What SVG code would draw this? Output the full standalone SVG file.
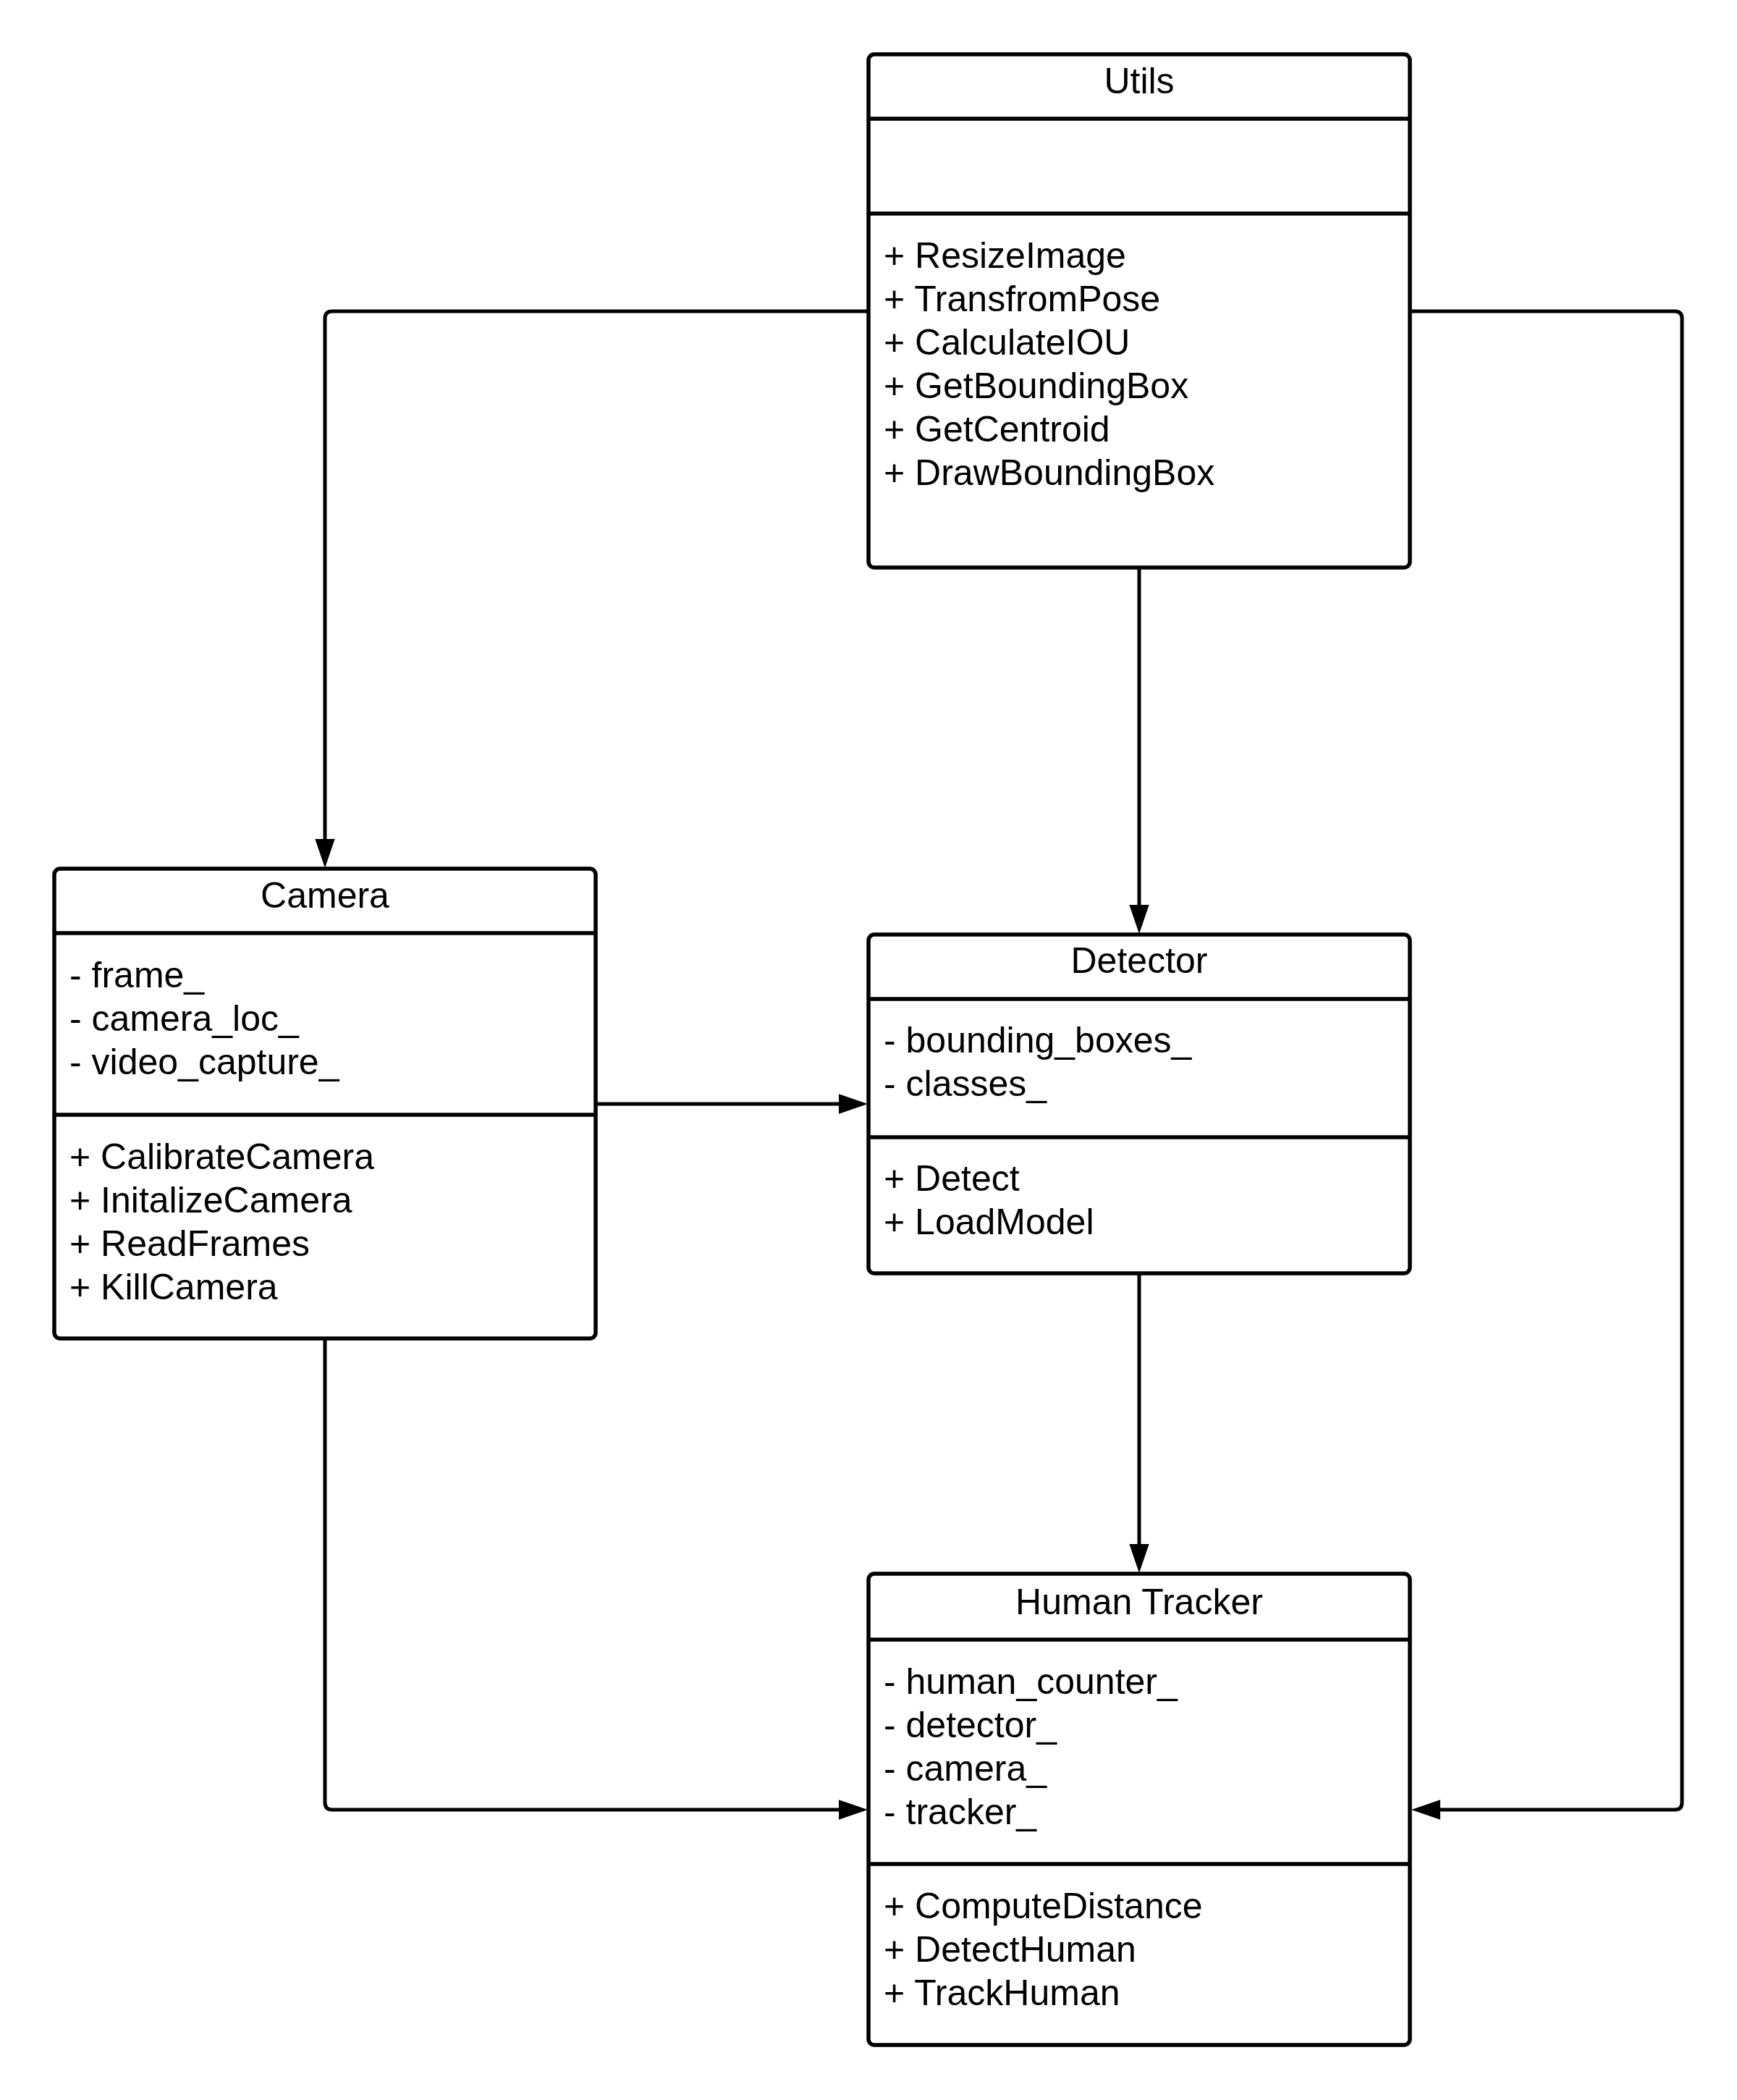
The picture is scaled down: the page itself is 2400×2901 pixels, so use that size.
<svg xmlns="http://www.w3.org/2000/svg" width="2400" height="2901" viewBox="0 0 2400 2901">
  <style>
    .box { fill: #ffffff; stroke: #000000; stroke-width: 5.5; }
    .div { stroke: #000000; stroke-width: 5.5; }
    .t { font-family: "Liberation Sans", Arial, sans-serif; font-size: 50px; fill: #000000; }
    .title { text-anchor: middle; }
    .edge { fill: none; stroke: #000000; stroke-width: 5; stroke-linejoin: round; }
  </style>
  <defs>
    <marker id="arrow" markerUnits="userSpaceOnUse" markerWidth="40" markerHeight="28" viewBox="0 0 38 26" refX="1" refY="13" orient="auto">
      <path d="M0,0 L38,13 L0,26 Z" fill="#000000"/>
    </marker>
  </defs>
  <rect width="2400" height="2901" fill="#ffffff"/>

  <!-- connectors -->
  <g id="connectors">
    <path class="edge" d="M1200,430 H459 Q449,430 449,440 V1160" marker-end="url(#arrow)"/>
    <path class="edge" d="M1574,784 V1251" marker-end="url(#arrow)"/>
    <path class="edge" d="M1948,430 H2314 Q2324,430 2324,440 V2490 Q2324,2500 2314,2500 H1989" marker-end="url(#arrow)"/>
    <path class="edge" d="M823,1525 H1160" marker-end="url(#arrow)"/>
    <path class="edge" d="M449,1849 V2490 Q449,2500 459,2500 H1160" marker-end="url(#arrow)"/>
    <path class="edge" d="M1574,1759 V2134" marker-end="url(#arrow)"/>
  </g>

  <!-- Utils -->
  <g id="utils">
    <rect class="box" x="1200" y="75" width="748" height="709" rx="8"/>
    <line class="div" x1="1200" y1="164" x2="1948" y2="164"/>
    <line class="div" x1="1200" y1="295" x2="1948" y2="295"/>
    <text class="t title" x="1574" y="129">Utils</text>
    <text class="t" x="1221" y="370">+ ResizeImage</text>
    <text class="t" x="1221" y="430">+ TransfromPose</text>
    <text class="t" x="1221" y="490">+ CalculateIOU</text>
    <text class="t" x="1221" y="550">+ GetBoundingBox</text>
    <text class="t" x="1221" y="610">+ GetCentroid</text>
    <text class="t" x="1221" y="670">+ DrawBoundingBox</text>
  </g>

  <!-- Camera -->
  <g id="camera">
    <rect class="box" x="75" y="1200" width="748" height="649" rx="8"/>
    <line class="div" x1="75" y1="1289" x2="823" y2="1289"/>
    <line class="div" x1="75" y1="1540" x2="823" y2="1540"/>
    <text class="t title" x="449" y="1254">Camera</text>
    <text class="t" x="96" y="1364">- frame_</text>
    <text class="t" x="96" y="1424">- camera_loc_</text>
    <text class="t" x="96" y="1484">- video_capture_</text>
    <text class="t" x="96" y="1615">+ CalibrateCamera</text>
    <text class="t" x="96" y="1675">+ InitalizeCamera</text>
    <text class="t" x="96" y="1735">+ ReadFrames</text>
    <text class="t" x="96" y="1795">+ KillCamera</text>
  </g>

  <!-- Detector -->
  <g id="detector">
    <rect class="box" x="1200" y="1291" width="748" height="468" rx="8"/>
    <line class="div" x1="1200" y1="1380" x2="1948" y2="1380"/>
    <line class="div" x1="1200" y1="1571" x2="1948" y2="1571"/>
    <text class="t title" x="1574" y="1344">Detector</text>
    <text class="t" x="1221" y="1454">- bounding_boxes_</text>
    <text class="t" x="1221" y="1514">- classes_</text>
    <text class="t" x="1221" y="1645">+ Detect</text>
    <text class="t" x="1221" y="1705">+ LoadModel</text>
  </g>

  <!-- Human Tracker -->
  <g id="human-tracker">
    <rect class="box" x="1200" y="2174" width="748" height="651" rx="8"/>
    <line class="div" x1="1200" y1="2265" x2="1948" y2="2265"/>
    <line class="div" x1="1200" y1="2575" x2="1948" y2="2575"/>
    <text class="t title" x="1574" y="2230">Human Tracker</text>
    <text class="t" x="1221" y="2340">- human_counter_</text>
    <text class="t" x="1221" y="2400">- detector_</text>
    <text class="t" x="1221" y="2460">- camera_</text>
    <text class="t" x="1221" y="2520">- tracker_</text>
    <text class="t" x="1221" y="2650">+ ComputeDistance</text>
    <text class="t" x="1221" y="2710">+ DetectHuman</text>
    <text class="t" x="1221" y="2770">+ TrackHuman</text>
  </g>
</svg>
